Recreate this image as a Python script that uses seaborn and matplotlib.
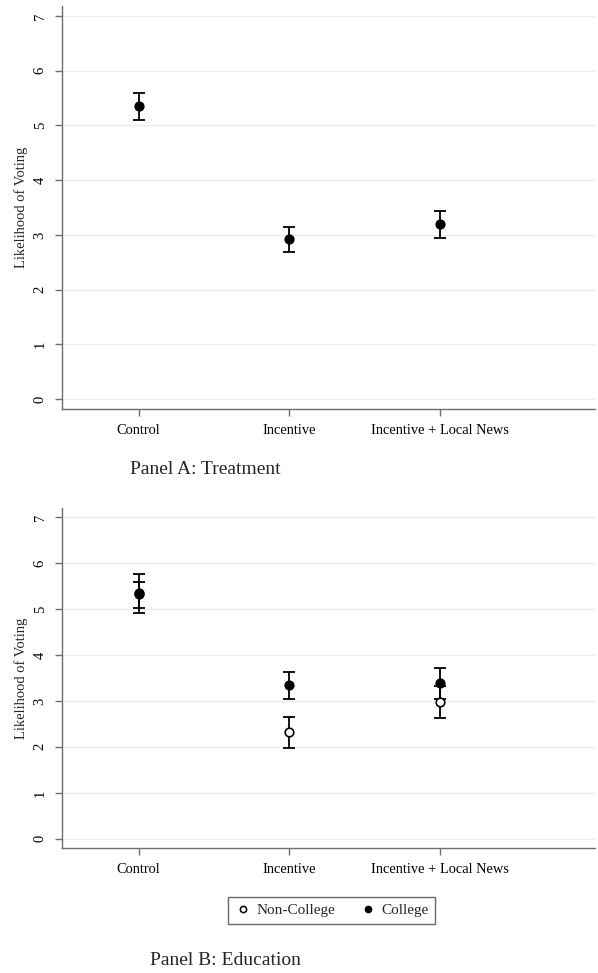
import numpy as np
import pandas as pd
import matplotlib
matplotlib.use("Agg")
import matplotlib.pyplot as plt
import seaborn as sns

# Chart data
groups = ["Control", "Incentive", "Incentive + Local News"]

# Panel A: treatment means and 95% CI
a_mean = [5.35, 2.92, 3.20]
a_lo = [5.10, 2.68, 2.95]
a_hi = [5.60, 3.15, 3.44]

# Panel B: by education
nc_mean = [5.33, 2.32, 2.98]
nc_lo = [4.91, 1.97, 2.63]
nc_hi = [5.76, 2.66, 3.33]
col_mean = [5.35, 3.35, 3.39]
col_lo = [5.02, 3.04, 3.05]
col_hi = [5.59, 3.64, 3.72]

yticks = [0, 1, 2, 3, 4, 5, 6, 7]

sns.set_style("white")
plt.rcParams['font.family'] = ['Liberation Serif', 'DejaVu Serif']

fig = plt.figure(figsize=(5.98, 9.73), dpi=100)
axA = fig.add_axes([0.1037, 0.5796, 0.8913, 0.4142])
axB = fig.add_axes([0.1037, 0.1285, 0.8913, 0.3495])

x = np.arange(len(groups))
grey = "#6e6e6e"


def style_axis(ax, ylo, yhi):
    ax.set_xlim(-0.508, 3.03)
    ax.set_ylim(ylo, yhi)
    ax.set_yticks(yticks)
    ax.set_yticklabels([str(t) for t in yticks], rotation=90, va="center", fontsize=10.5)
    ax.set_xticks(x)
    ax.set_xticklabels(groups, fontsize=10.4)
    for t in yticks:
        ax.axhline(t, color="#e8eff3", lw=1.0, zorder=0)
    sns.despine(ax=ax)
    for s in ["left", "bottom"]:
        ax.spines[s].set_color(grey)
        ax.spines[s].set_linewidth(1.0)
    ax.tick_params(axis="both", direction="out", length=5, color=grey, width=1.0,
                   pad=6, labelcolor="black", bottom=True, left=True)
    ax.set_ylabel("Likelihood of Voting", fontsize=10.5, labelpad=4)
    ax.set_xlabel("")


def draw_series(ax, mean, lo, hi, face, label=None):
    mean = np.array(mean)
    err = np.vstack([mean - np.array(lo), np.array(hi) - mean])
    ax.errorbar(x, mean, yerr=err, fmt="none", ecolor="black", elinewidth=1.3,
                capsize=4, capthick=1.3, zorder=2)
    df = pd.DataFrame({"x": x, "y": mean})
    sns.scatterplot(data=df, x="x", y="y", ax=ax, s=38, color=face,
                    edgecolor="black", linewidth=1.2, zorder=3, label=label,
                    legend=False)


# Panel A
draw_series(axA, a_mean, a_lo, a_hi, "black")
style_axis(axA, -0.18, 7.18)

# Panel B
draw_series(axB, nc_mean, nc_lo, nc_hi, "white")
draw_series(axB, col_mean, col_lo, col_hi, "black")
style_axis(axB, -0.2, 7.2)

# legend
h_nc = plt.Line2D([], [], marker="o", ls="none", markersize=4.5,
                  markerfacecolor="white", markeredgecolor="black", markeredgewidth=1.1)
h_col = plt.Line2D([], [], marker="o", ls="none", markersize=4.5,
                   markerfacecolor="black", markeredgecolor="black")
leg = fig.legend([h_nc, h_col], ["Non-College", "College"], ncol=2,
                 loc="center", bbox_to_anchor=(0.555, 0.0645), fontsize=11,
                 frameon=True, fancybox=False, handletextpad=0.4,
                 columnspacing=1.6, borderpad=0.45, handlelength=1.0)
leg.get_frame().set_edgecolor("#444444")
leg.get_frame().set_linewidth(1.0)

fig.text(0.218, 0.517, "Panel A: Treatment", fontsize=14, va="center")
fig.text(0.25, 0.013, "Panel B: Education", fontsize=14, va="center")

fig.savefig("out.png", dpi=100)
